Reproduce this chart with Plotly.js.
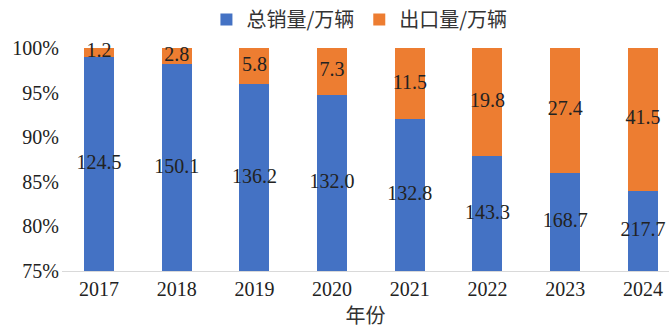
<!DOCTYPE html>
<html>
<head>
<meta charset="utf-8">
<script src="https://cdn.plot.ly/plotly-3.0.1.min.js"></script>
<style>html,body{margin:0;padding:0;background:#fff;}#chart{width:669px;height:330px;}</style>
</head>
<body>
<div id="chart"></div>
<script>
const years = ['2017','2018','2019','2020','2021','2022','2023','2024'];
const totalSales = [124.5,150.1,136.2,132.0,132.8,143.3,168.7,217.7];
const exports_ = [1.2,2.8,5.8,7.3,11.5,19.8,27.4,41.5];
const seriesNames = ['总销量/万辆','出口量/万辆'];
const yTicks = [75,80,85,90,95,100];

const blue = '#4472C4', orange = '#ED7D31';
const numFont = {family:'Liberation Serif, Times New Roman, serif', size:20, color:'#222'};
const cjkFont = {family:'Noto Sans CJK SC, sans-serif', size:20, color:'#333'};

const yMin = 75;
const pct = totalSales.map((v,i)=> v/(v+exports_[i])*100);
const blueMid = pct.map(p => (yMin+p)/2);
const orangeMid = pct.map(p => (p+100)/2);

const traces = [
  {type:'bar', x:years, y:totalSales, name:seriesNames[0], marker:{color:blue}, hoverinfo:'skip'},
  {type:'bar', x:years, y:exports_, name:seriesNames[1], marker:{color:orange}, hoverinfo:'skip'},
  {type:'scatter', mode:'text', x:years, y:blueMid, text:totalSales.map(v=>v.toFixed(1)), textfont:numFont, showlegend:false, hoverinfo:'skip', cliponaxis:false},
  {type:'scatter', mode:'text', x:years, y:orangeMid, text:exports_.map(v=>v.toFixed(1)), textfont:numFont, showlegend:false, hoverinfo:'skip', cliponaxis:false}
];

const layout = {
  width:669, height:330,
  margin:{l:62, r:0, t:47, b:59},
  paper_bgcolor:'#fff', plot_bgcolor:'#fff',
  font:numFont,
  barmode:'stack', barnorm:'percent', bargap:0.614,
  showlegend:true,
  legend:{orientation:'h', x:0.49, xanchor:'center', y:1.13, yanchor:'middle', font:cjkFont, itemwidth:30, traceorder:'normal'},
  xaxis:{type:'category', range:[-0.476, 7.336], showline:true, linecolor:'#d9d9d9', linewidth:1, ticks:'', showgrid:false, zeroline:false, tickfont:numFont,
         title:{text:'年份', font:cjkFont, standoff:4}},
  yaxis:{range:[75,100], tickvals:yTicks, ticktext:yTicks.map(v=>v+'%'), showgrid:false, zeroline:false, showline:false, ticks:'', tickfont:numFont, ticklabelstandoff:2}
};

Plotly.newPlot('chart', traces, layout, {displayModeBar:false, staticPlot:true});
</script>
</body>
</html>
